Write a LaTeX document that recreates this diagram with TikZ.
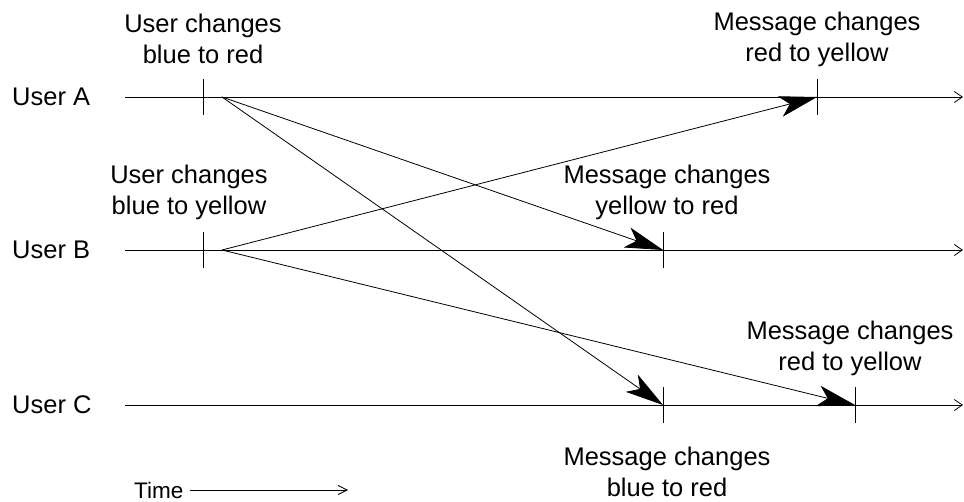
\documentclass[tikz,border=0pt]{standalone}
\usepackage{fontspec}
\setmainfont{Liberation Sans}
\usetikzlibrary{arrows.meta}
\begin{document}
\begin{tikzpicture}[x=1pt,y=-1pt,
  lbl/.style={font=\fontsize{25.5}{31}\selectfont, align=center, inner sep=0pt},
  timeline/.style={line width=0.9pt, -{Straight Barb[length=8pt,width=11pt,line width=0.8pt]}},
  tick/.style={line width=0.9pt},
  msg/.style={line width=0.8pt, -{Stealth[length=38pt,width=21pt,inset=10pt]}}]
  \useasboundingbox (0,0) rectangle (964,502);

  % user labels
  \node[lbl, anchor=west] (ua) at (12,97) {User A};
  \node[lbl, anchor=west] (ub) at (12,250) {User B};
  \node[lbl, anchor=west] (uc) at (12,405) {User C};

  % timeline end points
  \coordinate (as) at (125,97);  \coordinate (ae) at (963,97);
  \coordinate (bs) at (125,250); \coordinate (be) at (963,250);
  \coordinate (cs) at (125,405); \coordinate (ce) at (963,405);
  \draw[timeline] (as) -- (ae);
  \draw[timeline] (bs) -- (be);
  \draw[timeline] (cs) -- (ce);

  % event points on the timelines
  \coordinate (a1) at (203,97);  \coordinate (a2) at (817,97);
  \coordinate (b1) at (203,250); \coordinate (b2) at (663,250);
  \coordinate (c1) at (663,405); \coordinate (c2) at (855,405);
  \foreach \p in {a1,a2,b1,b2,c1,c2}
    \draw[tick] ([yshift=-18pt]\p) -- ([yshift=18pt]\p);

  % message send points
  \coordinate (as1) at (222,97);
  \coordinate (bs1) at (222,250);

  % messages
  \draw[msg] (as1) -- (b2);
  \draw[msg] (as1) -- (c1);
  \draw[msg] (bs1) -- (a2);
  \draw[msg] (bs1) -- (c2);

  % event labels
  \node[lbl] (l1) at (203,39) {User changes\\blue to red};
  \node[lbl] (l2) at (817,39) {Message changes\\red to yellow};
  \node[lbl] (l3) at (189,192) {User changes\\blue to yellow};
  \node[lbl] (l4) at (667,192) {Message changes\\yellow to red};
  \node[lbl] (l5) at (850,348) {Message changes\\red to yellow};
  \node[lbl] (l6) at (667,472) {Message changes\\blue to red};

  % time axis
  \node[font=\fontsize{22.5}{26}\selectfont, anchor=west, inner sep=0pt] (tm) at (134,490) {Time};
  \coordinate (te) at (348,490);
  \draw[line width=0.8pt, -{Straight Barb[length=9pt,width=9pt,line width=0.8pt]}] ([xshift=6pt]tm.east) -- (te);
\end{tikzpicture}
\end{document}
